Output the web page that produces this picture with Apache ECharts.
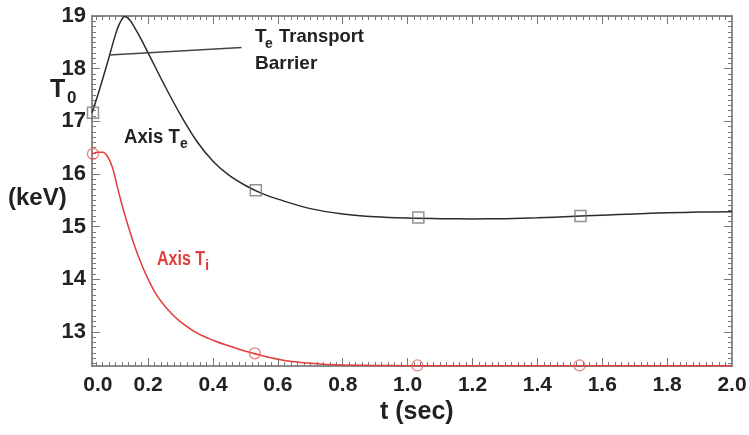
<!DOCTYPE html>
<html>
<head>
<meta charset="utf-8">
<script src="https://cdn.jsdelivr.net/npm/echarts@6/dist/echarts.min.js"></script>
<style>html,body{margin:0;padding:0;background:#fff}#c{width:749px;height:435px}</style>
</head>
<body>
<div id="c"></div>
<script>
// ---- data ----
const TE_T = [0.027,0.05,0.075,0.10,0.113,0.128,0.144,0.16,0.175,0.20,0.25,0.30,0.35,0.40,0.45,0.50,0.55,0.60,0.70,0.80,0.90,1.00,1.10,1.20,1.30,1.40,1.50,1.60,1.70,1.80,1.90,2.00];
const TE_V = [17.16,17.60,18.12,18.66,18.87,18.99,18.92,18.76,18.60,18.30,17.69,17.12,16.62,16.24,15.97,15.78,15.63,15.52,15.34,15.24,15.185,15.16,15.15,15.145,15.15,15.165,15.19,15.215,15.24,15.26,15.275,15.28];
const TI_T = [0.027,0.045,0.06,0.075,0.09,0.105,0.12,0.14,0.16,0.18,0.20,0.225,0.25,0.275,0.30,0.35,0.40,0.45,0.50,0.55,0.60,0.65,0.70,0.75,0.80,0.90,1.0,1.5,2.0];
const TI_V = [16.38,16.41,16.41,16.33,16.12,15.76,15.40,14.98,14.60,14.28,14.00,13.71,13.50,13.33,13.19,12.98,12.84,12.73,12.63,12.55,12.48,12.43,12.40,12.38,12.37,12.36,12.357,12.355,12.353];
const TE_MARK_T = [0.030,0.532,1.033,1.533];
const TE_MARK_V = [17.16,15.69,15.17,15.20];
const TI_MARK_T = [0.030,0.529,1.030,1.530];
const TI_MARK_V = [16.38,12.59,12.36,12.36];
const LEADER = [[0.080,18.26],[0.488,18.40]];

const X_MIN = 0.027, X_MAX = 2.0;
const Y_MIN = 12.35, Y_MAX = 19;
const X_MAJOR = [0.2,0.4,0.6,0.8,1.0,1.2,1.4,1.6,1.8];
const X_LABEL_POS = [0.045,0.2,0.4,0.6,0.8,1.0,1.2,1.4,1.6,1.8,2.0];
const X_LABELS = ['0.0','0.2','0.4','0.6','0.8','1.0','1.2','1.4','1.6','1.8','2.0'];
const Y_MAJOR = [13,14,15,16,17,18,19];
const Y_LABELS = ['13','14','15','16','17','18','19'];

const X_MINOR = [];
for (let i = 2; i < 100; i++) { const v = +(i*0.02).toFixed(2); if (v > X_MIN && v < X_MAX && Math.abs(v*5 - Math.round(v*5)) > 1e-6) X_MINOR.push(v); }
const Y_MINOR = [];
for (let i = 124; i < 190; i++) { const v = +(i*0.1).toFixed(1); if (v > Y_MIN && v < Y_MAX && Math.abs(v - Math.round(v)) > 1e-6) Y_MINOR.push(v); }

const zip = (a,b) => a.map((v,i) => [v,b[i]]);
const FF = '"Liberation Sans", Arial, Helvetica, sans-serif';
const frame = {color:'#666', width:1.5};
const tickStyle = {color:'#777', width:1};

function xAx(pos, ticks, len, labels, line) {
  return {type:'value', min:X_MIN, max:X_MAX, position:pos,
    axisLine:{show:line, lineStyle:frame},
    axisTick:{show:true, inside:true, length:len, customValues:ticks, lineStyle:tickStyle},
    axisLabel: labels ? {show:true, customValues:X_LABEL_POS, formatter:(v)=>{let k=X_LABEL_POS.findIndex(p=>Math.abs(p-v)<1e-6);return k>=0?X_LABELS[k]:'';}, fontSize:21, fontWeight:'bold', color:'#222', fontFamily:FF, margin:9} : {show:false},
    splitLine:{show:false}};
}
function yAx(pos, ticks, len, labels, line) {
  return {type:'value', min:Y_MIN, max:Y_MAX, position:pos,
    axisLine:{show:line, lineStyle:frame},
    axisTick:{show:true, inside:true, length:len, customValues:ticks, lineStyle:tickStyle},
    axisLabel: labels ? {show:true, customValues:Y_MAJOR, formatter:(v)=>{let k=Y_MAJOR.findIndex(p=>Math.abs(p-v)<1e-6);return k>=0?Y_LABELS[k]:'';}, fontSize:22, fontWeight:'bold', color:'#222', fontFamily:FF, margin:6} : {show:false},
    splitLine:{show:false}};
}

const chart = echarts.init(document.getElementById('c'), null, {renderer:'canvas'});
const txt = (text, x, y, size, color, extra) => Object.assign({type:'text', x:x, y:y, silent:true,
  style:{text:text, fontSize:size, fontWeight:'bold', fontFamily:FF, fill:color, textVerticalAlign:'top'}}, extra||{});

chart.setOption({
  animation:false,
  backgroundColor:'#fff',
  grid:{left:92, right:17, top:16, bottom:69, containLabel:false, outerBoundsMode:'none'},
  xAxis:[xAx('bottom',X_MAJOR,8,true,true), xAx('bottom',X_MINOR,4,false,false), xAx('top',X_MAJOR,8,false,true), xAx('top',X_MINOR,4,false,false)],
  yAxis:[yAx('left',Y_MAJOR,8,true,true), yAx('left',Y_MINOR,4,false,false), yAx('right',Y_MAJOR,8,false,true), yAx('right',Y_MINOR,4,false,false)],
  series:[
    {type:'line', data:zip(TE_T,TE_V), smooth:0.35, showSymbol:false, lineStyle:{color:'#2b2b2b', width:1.5}, z:3,
      markLine:{silent:true, symbol:['none','none'], label:{show:false}, lineStyle:{color:'#444', width:1.5, type:'solid'},
        data:[[{coord:LEADER[0]},{coord:LEADER[1]}]]}},
    {type:'line', data:zip(TI_T,TI_V), smooth:0.35, showSymbol:false, lineStyle:{color:'#e23c3c', width:1.5}, z:3},
    {type:'scatter', data:zip(TE_MARK_T,TE_MARK_V), symbol:'rect', symbolSize:11, itemStyle:{color:'rgba(0,0,0,0)', borderColor:'#777', borderWidth:1.5}, z:4},
    {type:'scatter', data:zip(TI_MARK_T,TI_MARK_V), symbol:'circle', symbolSize:11, itemStyle:{color:'rgba(0,0,0,0)', borderColor:'#e86060', borderWidth:1.3}, z:4}
  ],
  graphic:[
    txt('T', 50, 78, 25, '#222'),
    txt('0', 67, 90, 17, '#222'),
    txt('(keV)', 8, 186, 24, '#222'),
    txt('t (sec)', 380, 400, 25, '#222'),
    txt('Axis T', 124, 127, 20, '#222', {scaleX:0.93}),
    txt('e', 180, 137, 14, '#222'),
    txt('Axis T', 157, 249, 20, '#e23c3c', {scaleX:0.8}),
    txt('i', 205, 258, 15, '#e23c3c'),
    txt('T', 255, 27, 19, '#222'),
    txt('e', 265, 37, 14, '#222'),
    txt('Transport', 279, 27, 19, '#222', {scaleX:0.97}),
    txt('Barrier', 255, 54, 19, '#222')
  ]
});
</script>
</body>
</html>
